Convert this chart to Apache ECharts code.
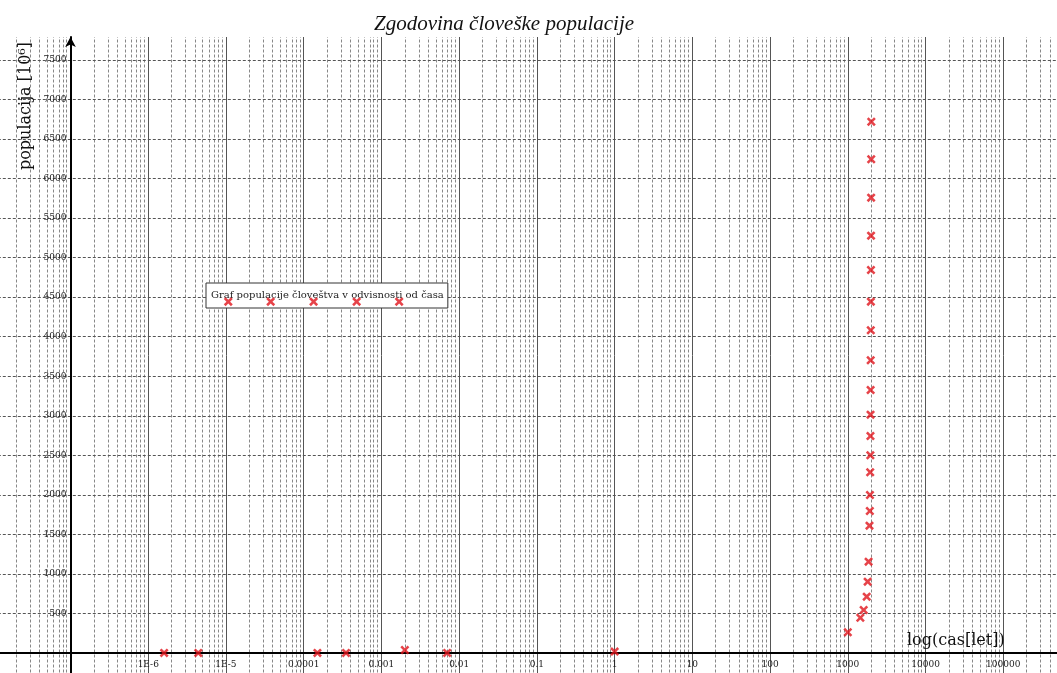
<!DOCTYPE html>
<html>
<head>
<meta charset="utf-8">
<title>Zgodovina človeške populacije</title>
<script src="https://cdn.jsdelivr.net/npm/echarts@6/dist/echarts.min.js"></script>
<style>
  html, body { margin: 0; padding: 0; background: #fff; }
  #chart { width: 1057px; height: 673px; }
</style>
</head>
<body>
<div id="chart"></div>
<script>
// cas v letih (x, logaritemsko) in populacija v milijonih (y)
const casLeta = [1.6e-6, 4.4e-6, 1.07e-5, 3.76e-5, 1.34e-4, 1.5e-4, 3.5e-4, 4.8e-4, 1.69e-3, 2e-3, 7e-3, 1,
  1000, 1450, 1600, 1750, 1800, 1850, 1900, 1920, 1927, 1940, 1950, 1955, 1960,
  1965, 1970, 1975, 1980, 1985, 1990, 1995, 2000, 2005];
const populacija = [1, 1, 4443, 4443, 4443, 1, 1, 4443, 4443, 38, 1, 17,
  262, 446, 544, 712, 902, 1155, 1610, 1796, 1998, 2285, 2500, 2744, 3014,
  3326, 3702, 4081, 4443, 4844, 5278, 5758, 6244, 6719];

// oznake dekad na osi x, od 1E-8 do 1E6
const xOznake = ['', '', '1E-6', '1E-5', '0.0001', '0.001', '0.01', '0.1', '1', '10', '100', '1000', '10000', '100000', ''];

const imeSerije = 'Graf populacije človeštva v odvisnosti od časa';
const pisava = 'DejaVu Serif';

// krizec kot oznaka tocke
const krizec = 'path://M0,2L2,0L5,3L8,0L10,2L7,5L10,8L8,10L5,7L2,10L0,8L3,5Z';

const chart = echarts.init(document.getElementById('chart'));

// pomozne crte mreze (2..9 v vsaki dekadi)
const pomozneCrte = [];
for (let k = -8; k < 6; k++) {
  for (let m = 2; m <= 9; m++) {
    pomozneCrte.push({ xAxis: Math.log10(m) + k });
  }
}

const option = {
  animation: false,
  title: {
    text: 'Zgodovina človeške populacije',
    left: 369,
    top: 9,
    textStyle: {
      fontFamily: 'Liberation Serif',
      fontStyle: 'italic',
      fontWeight: 'normal',
      fontSize: 21,
      color: '#111',
    },
  },
  legend: {
    data: [{ name: imeSerije, icon: 'none' }],
    left: 206,
    top: 283,
    itemWidth: 0,
    itemHeight: 0,
    padding: [7, 4, 8, 0],
    borderColor: '#333',
    borderWidth: 1,
    backgroundColor: '#fff',
    selectedMode: false,
    z: 4,
    textStyle: { fontFamily: pisava, fontSize: 10, color: '#222' },
  },
  grid: { left: -7.2, right: -24, top: 37, bottom: -19.5, outerBoundsMode: 'none' },
  xAxis: {
    type: 'value',
    min: -8,
    max: 6,
    interval: 1,
    position: 'bottom',
    offset: -39.5, // os x lezi na y = 0
    z: 2,
    axisLine: { onZero: false, lineStyle: { color: '#000', width: 2 } },
    axisTick: { show: false },
    axisLabel: {
      formatter: (v) => xOznake[Math.round(v) + 8] || '',
      fontFamily: pisava,
      fontSize: 9,
      color: '#222',
      margin: 7,
    },
    splitLine: { show: true, lineStyle: { color: '#555', width: 1 } },
  },
  yAxis: {
    type: 'value',
    min: -500,
    max: 7790,
    interval: 500,
    offset: -77.7, // os y lezi na x = 1E-7
    z: 2,
    axisLine: {
      show: true,
      onZero: false,
      symbol: ['none', 'arrow'],
      symbolSize: [8, 10],
      lineStyle: { color: '#000', width: 2 },
    },
    axisTick: { show: false },
    axisLabel: {
      formatter: (v) => (v > 0 ? String(v) : ''),
      showMaxLabel: false,
      fontFamily: pisava,
      fontSize: 9,
      color: '#222',
      margin: 4,
    },
    splitLine: {
      show: true,
      showMaxLine: false,
      lineStyle: { color: '#555', width: 1, type: [3, 2] },
    },
  },
  graphic: [
    {
      type: 'text',
      x: 26,
      y: 106,
      rotation: Math.PI / 2,
      z: 5,
      style: {
        text: 'populacija [10⁶]',
        fontFamily: pisava,
        fontSize: 16,
        fill: '#111',
        align: 'center',
        verticalAlign: 'middle',
      },
    },
    {
      type: 'text',
      x: 907,
      y: 641,
      z: 5,
      style: {
        text: 'log(cas[let])',
        fontFamily: pisava,
        fontSize: 16,
        fill: '#111',
        align: 'left',
        verticalAlign: 'middle',
      },
    },
  ],
  series: [
    {
      name: imeSerije,
      type: 'scatter',
      symbol: krizec,
      symbolSize: 9,
      itemStyle: { color: '#e0141c' },
      z: 10,
      data: casLeta.map((t, i) => [Math.log10(t), populacija[i]]),
    },
    {
      name: 'mreza',
      type: 'scatter',
      data: [],
      silent: true,
      markLine: {
        silent: true,
        symbol: 'none',
        z: 1,
        animation: false,
        label: { show: false },
        lineStyle: { color: '#888', width: 1, type: [3, 2] },
        data: pomozneCrte,
      },
    },
  ],
};

chart.setOption(option);
</script>
</body>
</html>
